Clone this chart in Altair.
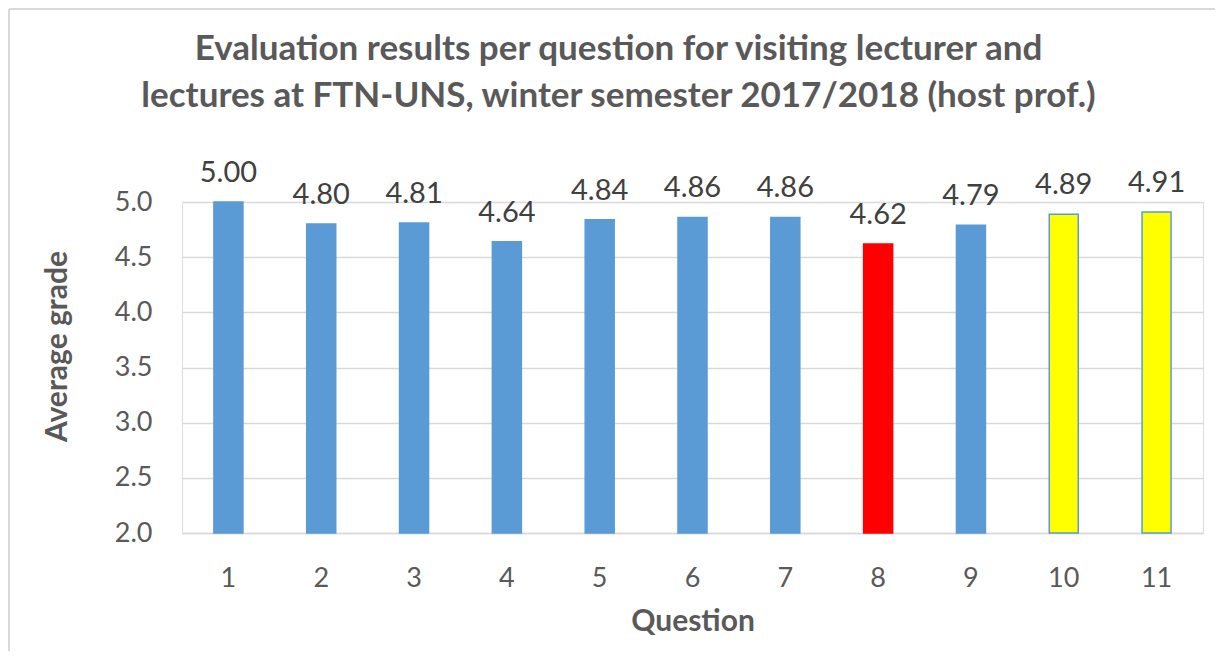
import altair as alt
import pandas as pd

questions = ["1", "2", "3", "4", "5", "6", "7", "8", "9", "10", "11"]
grades = [5.00, 4.80, 4.81, 4.64, 4.84, 4.86, 4.86, 4.62, 4.79, 4.89, 4.91]
groups = ["regular", "regular", "regular", "regular", "regular", "regular",
          "regular", "low", "regular", "highlight", "highlight"]

title_lines = ["Evaluation results per question for visiting lecturer and",
               "lectures at FTN-UNS, winter semester 2017/2018 (host prof.)"]

df = pd.DataFrame({"Question": questions, "Grade": grades, "Group": groups})

FONT = "Lato"
GREY = "#595959"

x_enc = alt.X("Question:N", sort=questions,
              scale=alt.Scale(paddingInner=0.6875, paddingOuter=0.344),
              axis=alt.Axis(title="Question", labelAngle=0, labelFontSize=27,
                            labelColor=GREY, labelFont=FONT, labelPadding=45,
                            labelBaseline="middle", tickSize=0, ticks=False,
                            domainColor="#D9D9D9", domainWidth=1.3,
                            titleFontSize=30, titleFont=FONT, titleColor=GREY,
                            titleFontWeight="bold", titleBaseline="middle",
                            titleY=88))

y_enc = alt.Y("Grade:Q", scale=alt.Scale(domain=[2.0, 5.0], nice=False, zero=False),
              axis=alt.Axis(title="Average grade", values=[2.0, 2.5, 3.0, 3.5, 4.0, 4.5, 5.0],
                            format=".1f", labelFontSize=27, labelColor=GREY,
                            labelFont=FONT, labelPadding=30, tickSize=0, ticks=False,
                            domain=False, gridColor="#D9D9D9", gridWidth=1.3,
                            titleFontSize=30, titleFont=FONT, titleColor=GREY,
                            titleFontWeight="bold", titleAngle=-90,
                            titleAlign="center", titleBaseline="bottom",
                            titleX=-110, titleY=144))

bars = alt.Chart(df).mark_bar(strokeWidth=1.5).encode(
    x=x_enc,
    y=y_enc,
    y2=alt.datum(2.0),
    color=alt.Color("Group:N", legend=None,
                    scale=alt.Scale(domain=["regular", "low", "highlight"],
                                    range=["#5B9BD5", "#FF0000", "#FFFF00"])),
    stroke=alt.Stroke("Group:N", legend=None,
                      scale=alt.Scale(domain=["regular", "low", "highlight"],
                                      range=["#5B9BD5", "#FF0000", "#5B9BD5"])),
)

labels = alt.Chart(df).mark_text(dy=-20, baseline="alphabetic", fontSize=29,
                                 font=FONT, color="#404040").encode(
    x=alt.X("Question:N", sort=questions),
    y="Grade:Q",
    text=alt.Text("Grade:Q", format=".2f"),
)

frame_df = pd.DataFrame({"k": [0]})
frame_top = alt.Chart(frame_df).mark_rule(color="#D9D9D9", strokeWidth=2,
                                          clip=False).encode(
    x=alt.value(-173), x2=alt.value(1060), y=alt.value(-193)
)
frame_left = alt.Chart(frame_df).mark_rule(color="#D9D9D9", strokeWidth=2,
                                           clip=False).encode(
    x=alt.value(-173), y=alt.value(-193), y2=alt.value(480)
)

chart = alt.layer(frame_top, frame_left, bars, labels).properties(
    width=1021, height=331,
    autosize=alt.AutoSizeParams(type="none"),
    padding={"left": 174, "top": 194, "right": 12, "bottom": 118},
    title=alt.TitleParams(text=title_lines, fontSize=35, font=FONT,
                          fontWeight="bold", color=GREY, anchor="middle",
                          baseline="alphabetic", dx=-74, lineHeight=47,
                          offset=-134),
).configure_view(stroke=None).configure(background="white")

chart.save("out.html", embed_options={"renderer": "svg", "actions": False})
